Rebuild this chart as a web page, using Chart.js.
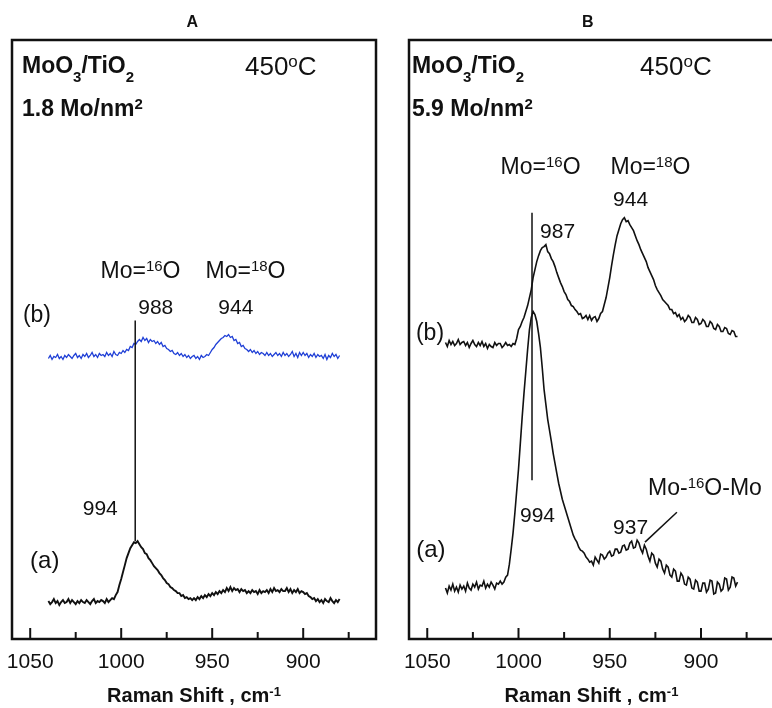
<!DOCTYPE html>
<html>
<head>
<meta charset="utf-8">
<script src="https://cdn.jsdelivr.net/npm/chart.js@4.4.1/dist/chart.umd.min.js"></script>
<style>
  html, body { margin:0; padding:0; background:#fff; overflow:hidden; }
  #wrap { position:relative; width:772px; height:708px; overflow:hidden; }
  .panel { position:absolute; top:0; width:390px; height:708px; }
  #pa { left:0; }
  #pb { left:390px; }
</style>
</head>
<body>
<div id="wrap">
  <div class="panel" id="pa"><canvas id="chartA" width="390" height="708"></canvas></div>
  <div class="panel" id="pb"><canvas id="chartB" width="390" height="708"></canvas></div>
</div>
<script>
/* ---- data (Raman shift, cm-1, and offset intensities, a.u.) ---- */
const shiftCm = [
  1040,1039,1038,1037,1036,1035,1034,1033,1032,1031,
  1030,1029,1028,1027,1026,1025,1024,1023,1022,1021,
  1020,1019,1018,1017,1016,1015,1014,1013,1012,1011,
  1010,1009,1008,1007,1006,1005,1004,1003,1002,1001,
  1000,999,998,997,996,995,994,993,992,991,
  990,989,988,987,986,985,984,983,982,981,
  980,979,978,977,976,975,974,973,972,971,
  970,969,968,967,966,965,964,963,962,961,
  960,959,958,957,956,955,954,953,952,951,
  950,949,948,947,946,945,944,943,942,941,
  940,939,938,937,936,935,934,933,932,931,
  930,929,928,927,926,925,924,923,922,921,
  920,919,918,917,916,915,914,913,912,911,
  910,909,908,907,906,905,904,903,902,901,
  900,899,898,897,896,895,894,893,892,891,
  890,889,888,887,886,885,884,883,882,881,
  880
];

// panel A, 1.8 Mo/nm2 : (a) 16O, (b) after 18O exchange
const panelA_a = [
  38,35,37,40,36,38,34,37,39,36,
  37,40,36,39,37,35,38,36,39,37,
  36,39,37,35,38,40,36,38,37,39,
  38,36,40,37,39,41,40,44,47,54,
  60,67,74,81,86,91,94,97,96,98,
  95,92,90,86,85,81,79,76,73,71,
  69,66,64,61,59,56,55,52,51,49,
  48,46,46,43,44,41,42,40,41,39,
  41,39,42,40,43,41,44,42,45,43,
  46,44,47,45,48,46,49,47,51,48,
  52,48,51,49,50,47,50,48,49,46,
  48,46,49,47,48,45,49,46,48,47,
  49,46,50,47,51,48,49,47,50,48,
  48,51,47,50,46,49,47,50,46,48,
  47,45,46,43,42,40,41,38,40,37,
  39,36,40,38,37,41,38,36,39,37,
  40
];
const panelA_b = [
  281,284,280,283,282,285,281,283,280,284,
  282,285,283,281,284,286,282,284,281,285,
  283,286,282,284,287,283,285,282,286,284,
  285,283,287,284,286,283,288,285,284,287,
  286,289,287,290,289,293,292,296,295,298,
  300,298,302,299,301,297,300,298,299,296,
  298,295,297,293,294,291,290,288,289,286,
  285,287,284,286,283,285,282,284,281,283,
  284,281,283,280,284,282,283,285,284,287,
  290,292,295,297,299,301,302,304,303,305,
  302,303,299,300,296,297,293,294,291,290,
  288,290,287,289,286,288,285,287,286,284,
  287,284,286,283,285,287,284,286,283,287,
  284,286,283,285,288,283,286,282,287,284,
  287,284,286,282,285,283,286,282,285,283,
  284,281,285,280,284,282,286,283,285,281,
  284
];

// panel B, 5.9 Mo/nm2
const panelB_a = [
  51,46,53,49,55,48,52,47,54,50,
  53,48,56,51,49,55,52,57,50,54,
  53,58,51,55,52,57,54,50,56,55,
  58,55,57,62,64,75,90,106,126,148,
  170,196,222,246,268,290,310,322,328,325,
  318,306,292,272,250,235,220,209,198,186,
  176,166,156,148,140,134,128,122,116,110,
  104,100,97,92,89,88,86,82,80,77,
  78,74,82,79,76,85,84,80,82,86,
  88,83,84,90,90,86,87,93,94,89,
  90,96,98,91,92,99,96,90,86,94,
  90,83,78,86,84,76,72,80,78,70,
  66,74,72,64,62,70,68,58,58,66,
  63,55,54,62,60,51,50,59,57,48,
  48,56,56,47,50,59,58,45,46,57,
  55,48,50,61,60,49,52,62,61,53,
  57
];
const panelB_b = [
  297,293,299,295,298,294,296,300,295,297,
  298,294,297,292,296,299,295,293,297,294,
  298,293,296,291,295,293,292,297,294,296,
  296,292,294,297,294,295,293,296,295,301,
  310,313,318,322,328,334,342,350,362,370,
  378,384,389,392,393,395,388,386,381,378,
  373,367,362,357,353,348,345,340,338,334,
  333,330,328,325,326,321,322,324,320,324,
  319,322,323,318,321,326,328,335,342,352,
  362,374,385,395,404,410,416,420,422,418,
  419,415,412,409,404,399,395,390,386,382,
  378,372,368,364,360,354,350,347,344,340,
  338,336,334,330,330,326,327,323,325,320,
  322,318,320,324,322,317,317,322,320,315,
  316,320,318,313,313,318,316,311,310,315,
  313,308,308,312,311,306,305,309,308,303,
  303
];

const tickValues = [875, 900, 925, 950, 975, 1000, 1025, 1050];
const majorTicks = [900, 950, 1000, 1050];

/* ---- annotations, placed in data units ---- */
const FONT = '"Liberation Sans", Arial, Helvetica, sans-serif';

const labelsA = [
  { t:'A', x:961, y:613, size:16, bold:true },
  { t:'MoO_{3}/TiO_{2}', x:1054.5, y:567, size:23, bold:true, align:'left' },
  { t:'450^{o}C', x:932, y:565, size:26, align:'left' },
  { t:'1.8 Mo/nm^{2}', x:1054.5, y:524, size:23, bold:true, align:'left' },
  { t:'Mo=^{16}O', x:989.4, y:362, size:23 },
  { t:'Mo=^{18}O', x:931.7, y:362, size:23 },
  { t:'988', x:981, y:326, size:21 },
  { t:'944', x:937, y:326, size:21 },
  { t:'994', x:1011.5, y:124, size:21 },
  { t:'(b)', x:1046.3, y:318, size:23 },
  { t:'(a)', x:1042, y:71, size:24 },
  { t:'Raman Shift , cm^{-1}', x:960, y:-63, size:20, bold:true }
];
const linesA = [
  { x1:992.3, y1:319, x2:992.3, y2:98 }
];

const labelsB = [
  { t:'B', x:962, y:613, size:16, bold:true },
  { t:'MoO_{3}/TiO_{2}', x:1058.4, y:567, size:23, bold:true, align:'left' },
  { t:'450^{o}C', x:933.4, y:565, size:26, align:'left' },
  { t:'5.9 Mo/nm^{2}', x:1058.4, y:524, size:23, bold:true, align:'left' },
  { t:'Mo=^{16}O', x:987.9, y:466, size:23 },
  { t:'Mo=^{18}O', x:927.7, y:466, size:23 },
  { t:'987', x:978.6, y:402, size:21 },
  { t:'944', x:938.6, y:434, size:21 },
  { t:'994', x:989.6, y:117, size:21 },
  { t:'937', x:938.6, y:105, size:21 },
  { t:'Mo-^{16}O-Mo', x:929, y:144, size:23, align:'left' },
  { t:'(b)', x:1048.5, y:299, size:23 },
  { t:'(a)', x:1048, y:82, size:24 },
  { t:'Raman Shift , cm^{-1}', x:960, y:-63, size:20, bold:true }
];
const linesB = [
  { x1:992.6, y1:427, x2:992.6, y2:159 },
  { x1:913.2, y1:127, x2:930.7, y2:97 }
];

/* ---- helpers ---- */
// draws "MoO_{3}" / "nm^{2}" style text with sub/superscripts
function drawRich(ctx, str, x, y, size, bold, align) {
  const parts = [];
  const re = /([\^_])\{([^}]*)\}/g;
  let last = 0, m;
  while ((m = re.exec(str))) {
    if (m.index > last) parts.push({ t:str.slice(last, m.index), k:0 });
    parts.push({ t:m[2], k: m[1] === '^' ? 1 : -1 });
    last = re.lastIndex;
  }
  if (last < str.length) parts.push({ t:str.slice(last), k:0 });

  const small = Math.round(size * 0.65);
  const fontOf = k => (bold ? 'bold ' : '') + (k ? small : size) + 'px ' + FONT;
  let w = 0;
  parts.forEach(p => { ctx.font = fontOf(p.k); p.w = ctx.measureText(p.t).width; w += p.w; });
  let cx = align === 'left' ? x : align === 'right' ? x - w : x - w / 2;
  ctx.textAlign = 'left';
  ctx.textBaseline = 'alphabetic';
  parts.forEach(p => {
    ctx.font = fontOf(p.k);
    const dy = p.k === 1 ? -size * 0.3 : p.k === -1 ? size * 0.4 : 0;
    ctx.fillText(p.t, cx, y + dy);
    cx += p.w;
  });
}

function makeDecor(labels, lines) {
  return {
    id: 'panelDecor',
    afterDatasetsDraw(chart) {
      const { ctx, chartArea: a } = chart;
      const sx = chart.scales.x, sy = chart.scales.y;
      ctx.save();
      ctx.strokeStyle = '#111';
      // frame
      ctx.lineWidth = 2.5;
      ctx.strokeRect(a.left, a.top, a.right - a.left, a.bottom - a.top);
      // inward ticks on the bottom axis
      ctx.lineWidth = 2;
      sx.ticks.forEach(t => {
        const px = sx.getPixelForValue(t.value);
        const len = majorTicks.includes(t.value) ? 11 : 7;
        ctx.beginPath();
        ctx.moveTo(px, a.bottom);
        ctx.lineTo(px, a.bottom - len);
        ctx.stroke();
      });
      // peak marker lines
      ctx.lineWidth = 1.5;
      lines.forEach(l => {
        ctx.beginPath();
        ctx.moveTo(sx.getPixelForValue(l.x1), sy.getPixelForValue(l.y1));
        ctx.lineTo(sx.getPixelForValue(l.x2), sy.getPixelForValue(l.y2));
        ctx.stroke();
      });
      ctx.fillStyle = '#111';
      labels.forEach(l => drawRich(ctx, l.t, sx.getPixelForValue(l.x), sy.getPixelForValue(l.y),
                                   l.size, !!l.bold, l.align || 'center'));
      ctx.restore();
    }
  };
}

function toPoints(vals) {
  return shiftCm.map((x, i) => ({ x, y: vals[i] }));
}

function buildPanel(canvasId, traces, pad, labels, lines) {
  const ctx = document.getElementById(canvasId).getContext('2d');
  return new Chart(ctx, {
    type: 'line',
    data: {
      datasets: traces.map(t => ({
        data: toPoints(t.values),
        borderColor: t.color,
        borderWidth: t.width,
        pointRadius: 0,
        tension: 0,
        fill: false
      }))
    },
    options: {
      responsive: false,
      animation: false,
      events: [],
      layout: { padding: pad },
      plugins: { legend: { display:false }, tooltip: { enabled:false } },
      scales: {
        x: {
          type: 'linear', reverse: true, min: 860, max: 1060,
          grid: { display:false, drawTicks:false },
          border: { display:false },
          afterBuildTicks: s => { s.ticks = tickValues.map(v => ({ value: v })); },
          ticks: {
            autoSkip: false, maxRotation: 0,
            padding: 11, color: '#111',
            font: { family: FONT, size: 21 },
            callback: v => majorTicks.includes(v) ? String(v) : ''
          },
          afterFit: s => { s.height = 69; }
        },
        y: { display:false, min:0, max:600 }
      }
    },
    plugins: [makeDecor(labels, lines)]
  });
}

buildPanel('chartA', [
  { values: panelA_a, color: '#111', width: 1.9 },
  { values: panelA_b, color: '#1f3fd6', width: 1.3 }
], { left:12, right:14, top:40, bottom:0 }, labelsA, linesA);

buildPanel('chartB', [
  { values: panelB_a, color: '#111', width: 1.6 },
  { values: panelB_b, color: '#111', width: 1.6 }
], { left:19, right:6, top:40, bottom:0 }, labelsB, linesB);
</script>
</body>
</html>
